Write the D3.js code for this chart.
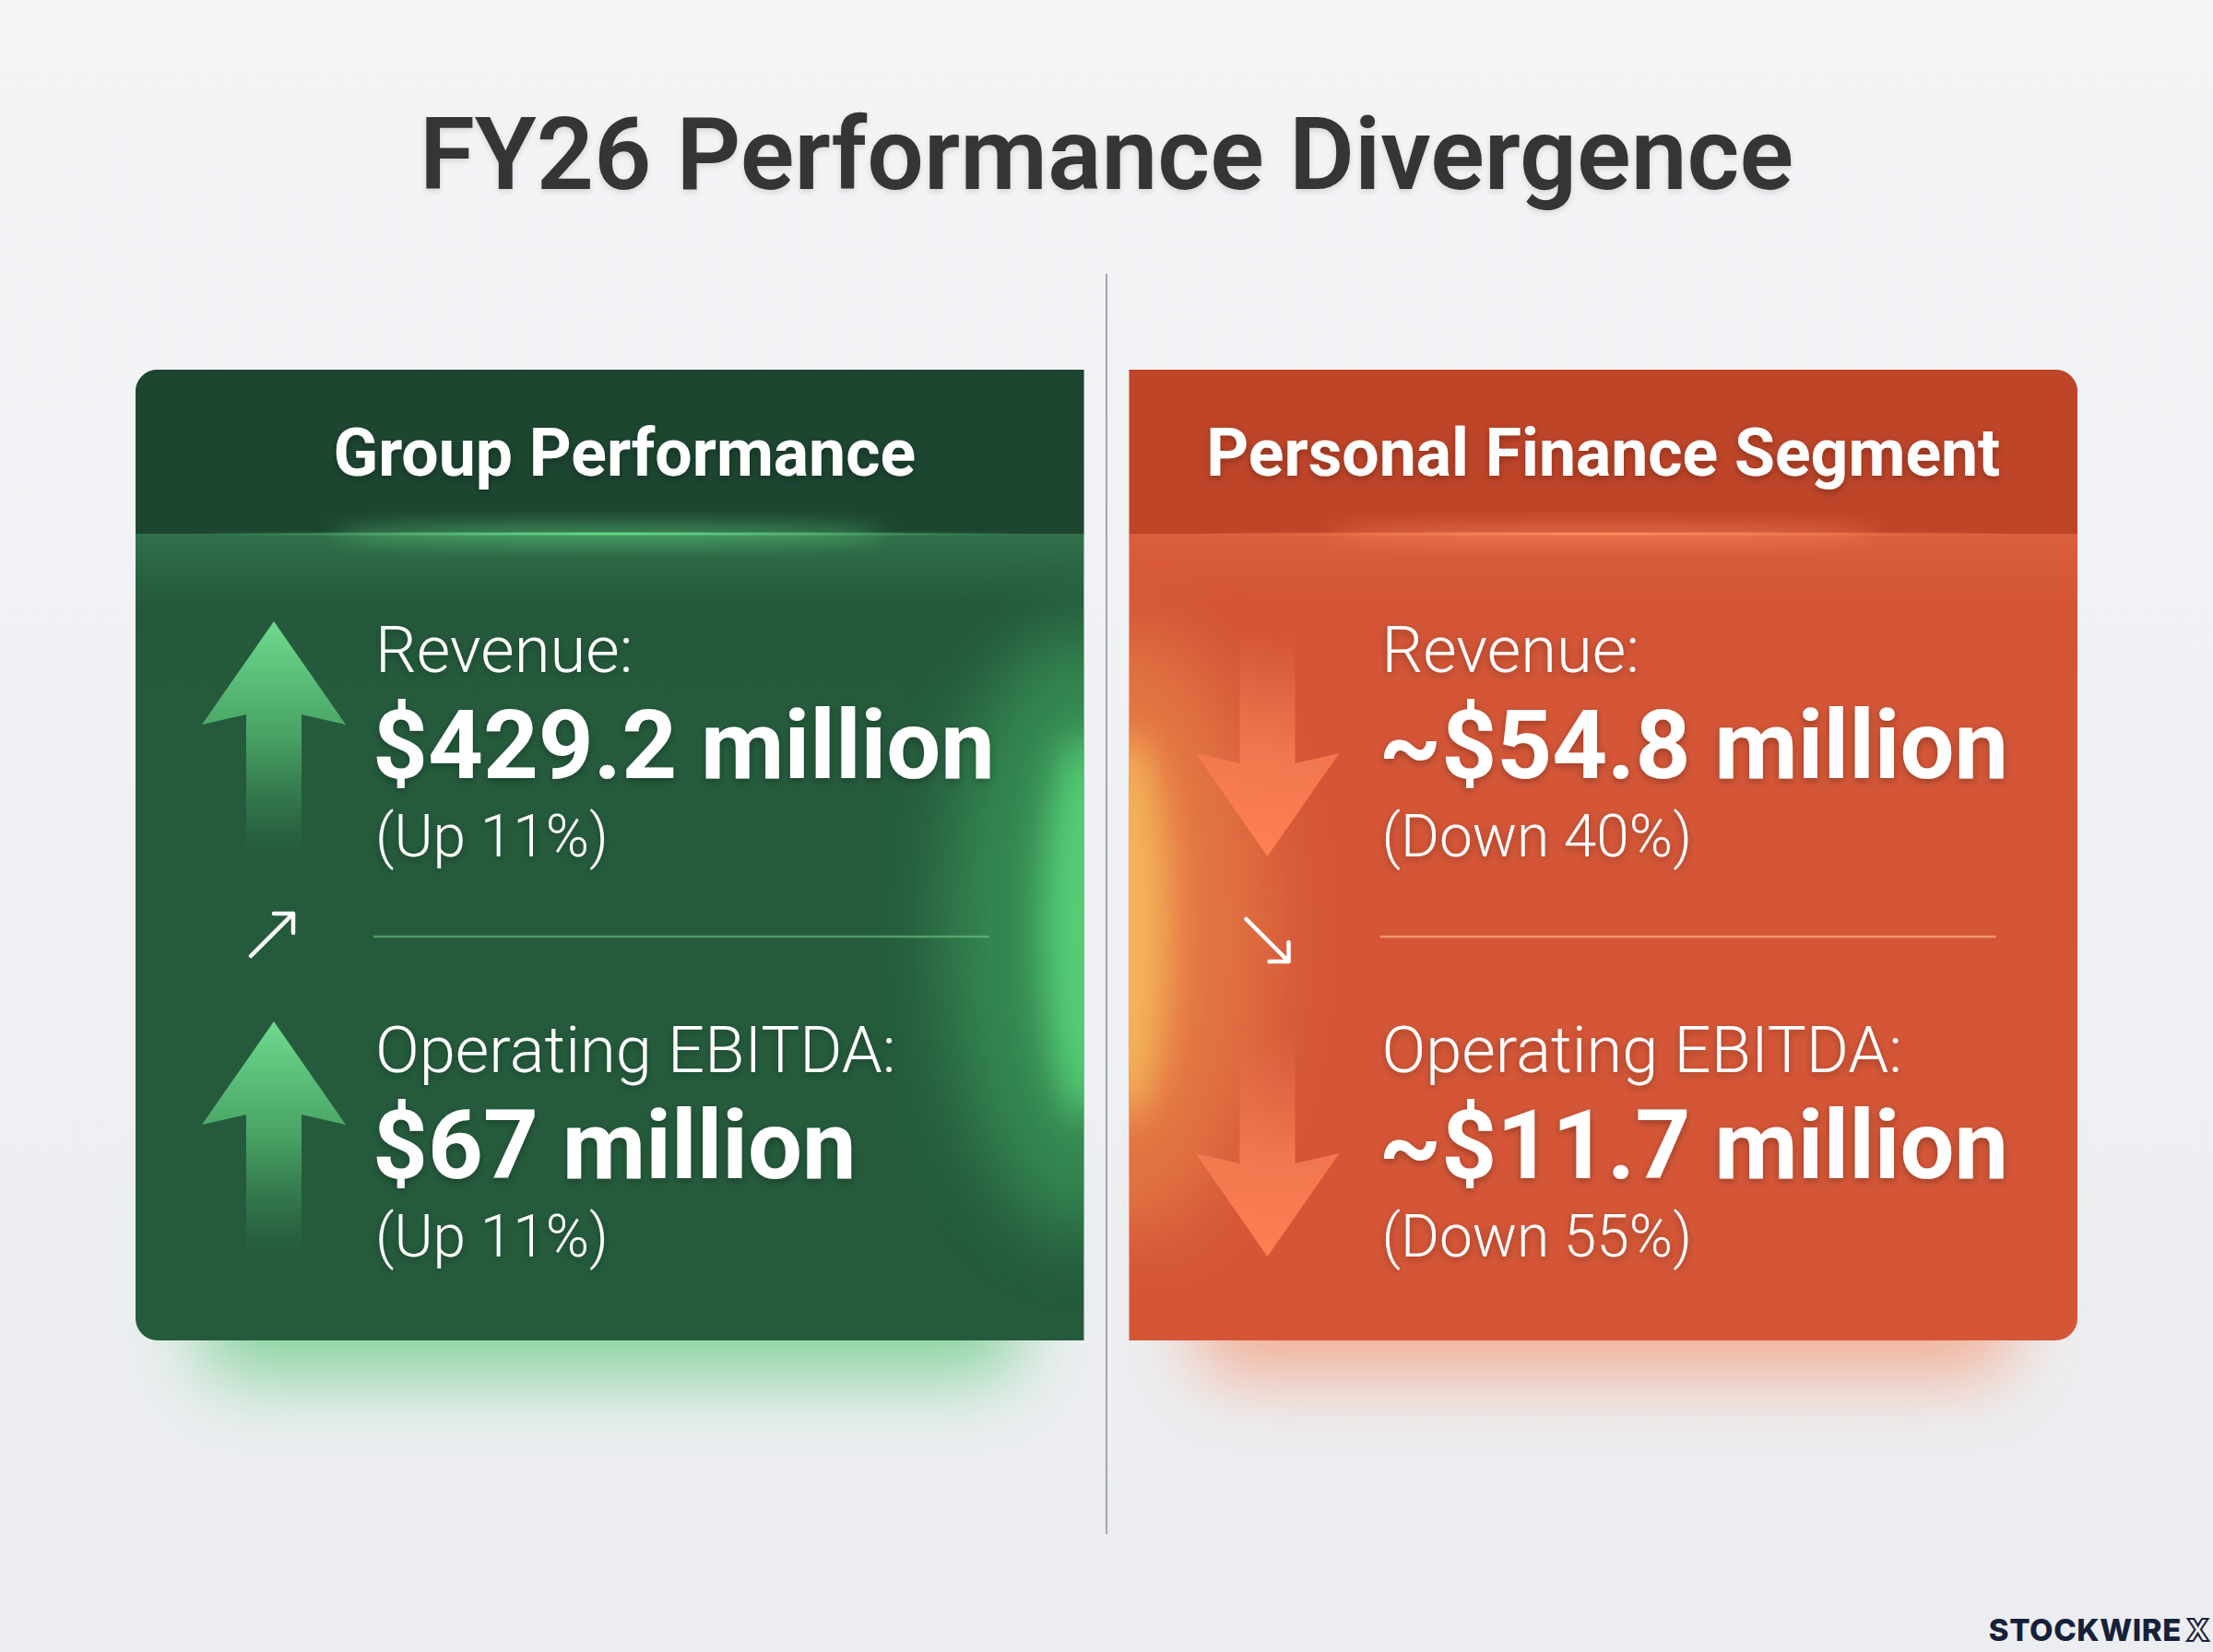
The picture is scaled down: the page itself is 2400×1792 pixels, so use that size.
<!DOCTYPE html>
<html>
<head>
<meta charset="utf-8">
<script src="https://cdn.jsdelivr.net/npm/d3@7"></script>
<style>
html, body { margin: 0; padding: 0; background: #eff0f2; }
svg { display: block; }
</style>
</head>
<body>
<div id="chart"></div>
<script>
// data
const title = 'FY26 Performance Divergence'
const panels = ['Group Performance', 'Personal Finance Segment']
const metrics = ['Revenue:', 'Operating EBITDA:']
const values = [
    ['$429.2 million', '$67 million'],
    ['~$54.8 million', '~$11.7 million']
]
const changes = [
    ['(Up 11%)', '(Up 11%)'],
    ['(Down 40%)', '(Down 55%)']
]
const changePct = [
    [11, 11],
    [-40, -55]
]
const brand = 'STOCKWIRE'

// look
const themes = [
    { header: '#1d4631', bodyTop: '#215238', body: '#255b3c', accent: '#66d888', edge: '#5fe080', haze: '#3fa862', shadow: '#74cf8e', sep: 'rgba(120,205,140,0.55)' },
    { header: '#bf4529', bodyTop: '#cf5233', body: '#d45637', accent: '#ff8c5e', edge: '#f9c35e', haze: '#ec8a4c', shadow: '#f3a486', sep: 'rgba(255,190,150,0.6)' }
]
const textX = [260, 274]
const headerShift = [16, 0]
const W = 2400
const H = 1792
const cardTop = 401
const cardBottom = 1454
const headerBottom = 579
const radius = 24

const svg = d3.select('#chart')
    .append('svg')
    .attr('width', W)
    .attr('height', H)
    .attr('viewBox', `0 0 ${W} ${H}`)

const defs = svg.append('defs')

const bg = defs.append('linearGradient').attr('id', 'bg').attr('x1', 0).attr('y1', 0).attr('x2', 0).attr('y2', 1)
bg.append('stop').attr('offset', 0).attr('stop-color', '#f3f4f6')
bg.append('stop').attr('offset', 1).attr('stop-color', '#ebedf0')

function blurFilter(id, sd) {
    defs.append('filter').attr('id', id)
        .attr('x', '-50%').attr('y', '-50%').attr('width', '200%').attr('height', '200%')
        .append('feGaussianBlur').attr('stdDeviation', sd)
}
blurFilter('blur40', 40)
blurFilter('blur20', 20)
blurFilter('blur10', 10)

const ts = defs.append('filter').attr('id', 'textShadow')
    .attr('x', '-10%').attr('y', '-30%').attr('width', '120%').attr('height', '160%')
ts.append('feDropShadow').attr('dx', 0).attr('dy', 3).attr('stdDeviation', 4)
    .attr('flood-color', '#000').attr('flood-opacity', 0.28)

const ts2 = defs.append('filter').attr('id', 'titleShadow')
    .attr('x', '-10%').attr('y', '-30%').attr('width', '120%').attr('height', '160%')
ts2.append('feDropShadow').attr('dx', 0).attr('dy', 3).attr('stdDeviation', 3)
    .attr('flood-color', '#000').attr('flood-opacity', 0.12)

svg.append('rect').attr('width', W).attr('height', H).attr('fill', 'url(#bg)')

// scales
const x = d3.scaleBand().domain(panels).range([147, 2253]).paddingInner(0.0455)
const bw = x.bandwidth()
const y = d3.scalePoint().domain(metrics).range([729, 1163])

// title
svg.append('text')
    .attr('x', W / 2)
    .attr('y', 205)
    .attr('text-anchor', 'middle')
    .attr('font-family', 'Roboto, "Noto Sans", sans-serif')
    .attr('font-weight', 600)
    .attr('font-size', 109)
    .attr('fill', '#353535')
    .attr('filter', 'url(#titleShadow)')
    .text(title)

// divider
svg.append('line')
    .attr('x1', W / 2).attr('x2', W / 2)
    .attr('y1', 297).attr('y2', 1664)
    .attr('stroke', '#a3a6ab')
    .attr('stroke-width', 2)

function cardPath(w, h, r, roundLeft) {
    const p = d3.path()
    if (roundLeft) {
        p.moveTo(r, 0)
        p.lineTo(w, 0)
        p.lineTo(w, h)
        p.lineTo(r, h)
        p.arcTo(0, h, 0, h - r, r)
        p.lineTo(0, r)
        p.arcTo(0, 0, r, 0, r)
    } else {
        p.moveTo(0, 0)
        p.lineTo(w - r, 0)
        p.arcTo(w, 0, w, r, r)
        p.lineTo(w, h - r)
        p.arcTo(w, h, w - r, h, r)
        p.lineTo(0, h)
    }
    p.closePath()
    return p.toString()
}

const arrowLine = d3.line()

panels.forEach((name, i) => {
    const t = themes[i]
    const w = bw
    const h = cardBottom - cardTop
    const g = svg.append('g').attr('transform', `translate(${x(name)},${cardTop})`)
    const d = cardPath(w, h, radius, i === 0)

    defs.append('clipPath').attr('id', 'clip' + i).append('path').attr('d', d)

    // gradients
    const bodyGrad = defs.append('linearGradient').attr('id', 'body' + i)
        .attr('x1', 0).attr('y1', 0).attr('x2', 0).attr('y2', 1)
    bodyGrad.append('stop').attr('offset', 0).attr('stop-color', t.bodyTop)
    bodyGrad.append('stop').attr('offset', 0.35).attr('stop-color', t.body)
    bodyGrad.append('stop').attr('offset', 1).attr('stop-color', t.body)

    const lineGrad = defs.append('linearGradient').attr('id', 'hline' + i)
        .attr('x1', 0).attr('y1', 0).attr('x2', 1).attr('y2', 0)
    lineGrad.append('stop').attr('offset', 0).attr('stop-color', t.accent).attr('stop-opacity', 0)
    lineGrad.append('stop').attr('offset', 0.5).attr('stop-color', t.accent).attr('stop-opacity', 1)
    lineGrad.append('stop').attr('offset', 1).attr('stop-color', t.accent).attr('stop-opacity', 0)

    const downGlow = defs.append('linearGradient').attr('id', 'hglow' + i)
        .attr('x1', 0).attr('y1', 0).attr('x2', 0).attr('y2', 1)
    downGlow.append('stop').attr('offset', 0).attr('stop-color', t.accent).attr('stop-opacity', 0.2)
    downGlow.append('stop').attr('offset', 1).attr('stop-color', t.accent).attr('stop-opacity', 0)

    // coloured shadow under the card
    g.append('rect')
        .attr('x', 70).attr('y', h - 230)
        .attr('width', w - 140).attr('height', 270)
        .attr('rx', 40)
        .attr('fill', t.shadow)
        .attr('opacity', 0.85)
        .attr('filter', 'url(#blur40)')

    // card body
    g.append('path').attr('d', d).attr('fill', 'url(#body' + i + ')')

    const inner = g.append('g').attr('clip-path', `url(#clip${i})`)

    // header band
    inner.append('rect')
        .attr('x', 0).attr('y', 0)
        .attr('width', w).attr('height', headerBottom - cardTop)
        .attr('fill', t.header)

    // soft glow below header
    inner.append('rect')
        .attr('x', 0).attr('y', headerBottom - cardTop)
        .attr('width', w).attr('height', 80)
        .attr('fill', 'url(#hglow' + i + ')')
    inner.append('ellipse')
        .attr('cx', w / 2).attr('cy', headerBottom - cardTop)
        .attr('rx', 300).attr('ry', 12)
        .attr('fill', t.accent)
        .attr('opacity', 0.45)
        .attr('filter', 'url(#blur10)')
    inner.append('rect')
        .attr('x', 60).attr('y', headerBottom - cardTop - 1.5)
        .attr('width', w - 120).attr('height', 3)
        .attr('fill', 'url(#hline' + i + ')')

    // edge glow next to the divider
    const edgeX = i === 0 ? w : 0
    inner.append('ellipse')
        .attr('cx', edgeX).attr('cy', 1010 - cardTop)
        .attr('rx', 150).attr('ry', 330)
        .attr('fill', t.haze)
        .attr('opacity', 0.6)
        .attr('filter', 'url(#blur40)')
    inner.append('ellipse')
        .attr('cx', edgeX).attr('cy', 1005 - cardTop)
        .attr('rx', 45).attr('ry', 210)
        .attr('fill', t.edge)
        .attr('opacity', 0.8)
        .attr('filter', 'url(#blur20)')

    // header title
    g.append('text')
        .attr('x', w / 2 + headerShift[i])
        .attr('y', 516 - cardTop)
        .attr('text-anchor', 'middle')
        .attr('font-family', 'Roboto, "Noto Sans", sans-serif')
        .attr('font-weight', 700)
        .attr('font-size', 71.5)
        .attr('fill', '#ffffff')
        .attr('filter', 'url(#textShadow)')
        .text(name)

    // metric rows
    metrics.forEach((label, j) => {
        const base = y(label) - cardTop
        const up = changePct[i][j] >= 0
        const cx = 150

        const ag = defs.append('linearGradient').attr('id', `arrow${i}${j}`)
            .attr('gradientUnits', 'userSpaceOnUse')
            .attr('x1', 0).attr('x2', 0)
        if (up) {
            ag.attr('y1', base - 55).attr('y2', base + 195)
            ag.append('stop').attr('offset', 0).attr('stop-color', '#6fda8e').attr('stop-opacity', 1)
            ag.append('stop').attr('offset', 0.5).attr('stop-color', '#4cab69').attr('stop-opacity', 0.9)
            ag.append('stop').attr('offset', 1).attr('stop-color', '#3f8f59').attr('stop-opacity', 0)
        } else {
            ag.attr('y1', base + 200).attr('y2', base - 45)
            ag.append('stop').attr('offset', 0).attr('stop-color', '#ff7f54').attr('stop-opacity', 1)
            ag.append('stop').attr('offset', 0.45).attr('stop-color', '#f47a50').attr('stop-opacity', 0.9)
            ag.append('stop').attr('offset', 1).attr('stop-color', '#ee7650').attr('stop-opacity', 0)
        }

        const tipY = up ? base - 55 : base + 200
        const s = up ? 1 : -1
        const shaft = up ? 250 : 243
        const pts = [
            [0, 0], [78, 112], [30, 101], [30, shaft],
            [-30, shaft], [-30, 101], [-78, 112]
        ].map(([px, py]) => [cx + px, tipY + s * py])

        g.append('path')
            .attr('d', arrowLine(pts) + 'Z')
            .attr('fill', `url(#arrow${i}${j})`)

        const tx = textX[i]
        g.append('text')
            .attr('x', tx).attr('y', base)
            .attr('font-family', 'Roboto, "Noto Sans", sans-serif')
            .attr('font-weight', 300)
            .attr('font-size', 70.5)
            .attr('fill', '#ffffff')
            .attr('filter', 'url(#textShadow)')
            .text(label)
        g.append('text')
            .attr('x', tx - 3).attr('y', base + 115)
            .attr('font-family', 'Roboto, "Noto Sans", sans-serif')
            .attr('font-weight', 700)
            .attr('font-size', 104.5)
            .attr('fill', '#ffffff')
            .attr('filter', 'url(#textShadow)')
            .text(values[i][j])
        g.append('text')
            .attr('x', tx).attr('y', base + 200)
            .attr('font-family', 'Roboto, "Noto Sans", sans-serif')
            .attr('font-weight', 300)
            .attr('font-size', 64)
            .attr('fill', '#ffffff')
            .attr('filter', 'url(#textShadow)')
            .text(changes[i][j])
    })

    // separator between metrics
    const sepY = 1016 - cardTop
    g.append('line')
        .attr('x1', textX[i] - 2).attr('x2', textX[i] + 666)
        .attr('y1', sepY).attr('y2', sepY)
        .attr('stroke', t.sep)
        .attr('stroke-width', 2.5)

    // small trend arrow
    const upTrend = d3.mean(changePct[i]) >= 0
    const ay = upTrend ? sepY - 2 : sepY + 4
    const a = 23
    const smallPath = upTrend
        ? `M${-a},${a}L${a},${-a}M${a - 21},${-a}L${a},${-a}L${a},${-a + 21}`
        : `M${-a},${-a}L${a},${a}M${a - 21},${a}L${a},${a}L${a},${a - 21}`
    g.append('path')
        .attr('transform', `translate(${upTrend ? 148 : 150},${ay})`)
        .attr('d', smallPath)
        .attr('fill', 'none')
        .attr('stroke', '#ffffff')
        .attr('stroke-width', 4.5)
        .attr('stroke-linecap', 'round')
        .attr('stroke-linejoin', 'round')
})

// brand mark
const brandG = svg.append('g')
    .attr('font-family', 'Inter, "Open Sans", sans-serif')
    .attr('font-weight', 800)
    .attr('font-size', 33)
    .attr('letter-spacing', 0.6)
    .attr('fill', '#16203a')
brandG.append('text')
    .attr('x', 2366).attr('y', 1780)
    .attr('text-anchor', 'end')
    .text(brand)
brandG.append('text')
    .attr('x', 2371).attr('y', 1780)
    .attr('fill', '#eef0f2')
    .attr('stroke', '#16203a')
    .attr('stroke-width', 2)
    .text('X')
</script>
</body>
</html>
